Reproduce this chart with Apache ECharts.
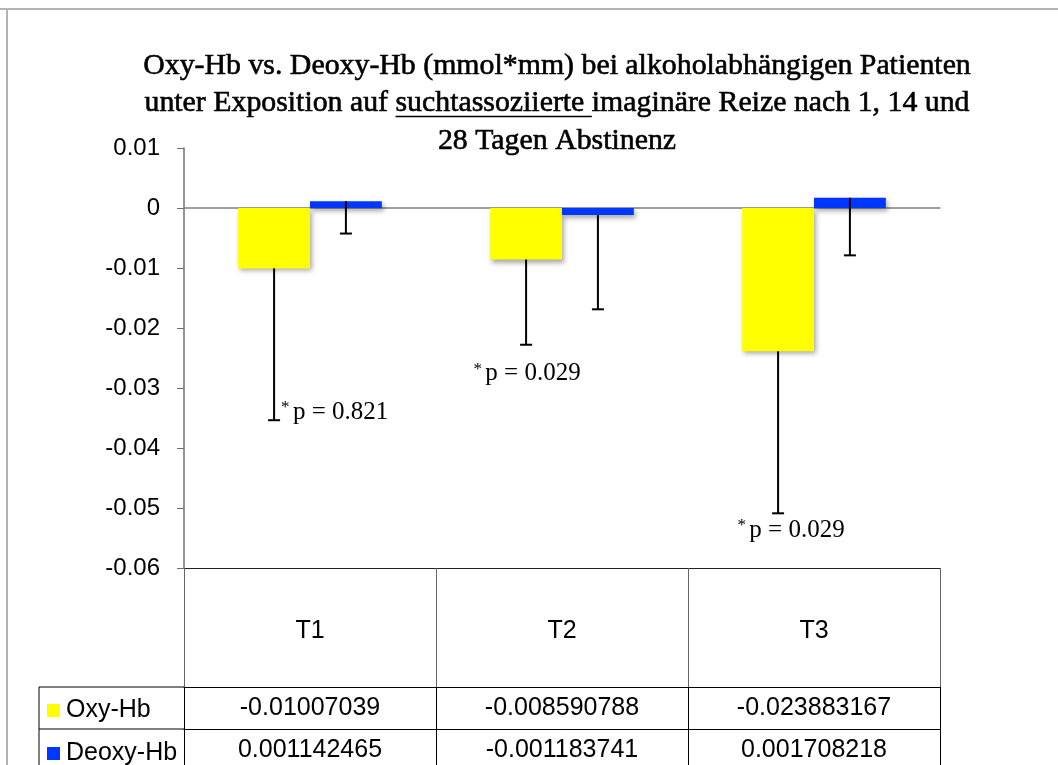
<!DOCTYPE html>
<html><head><meta charset="utf-8">
<script src="https://cdn.jsdelivr.net/npm/echarts@6/dist/echarts.min.js"></script>
<style>html,body{margin:0;padding:0;background:#fff}#c{width:1058px;height:765px}</style>
</head><body><div id="c"></div>
<script>
// ---- data ----
const categories = ['T1', 'T2', 'T3'];
const seriesNames = ['Oxy-Hb', 'Deoxy-Hb'];
const oxyValues = [-0.01007039, -0.008590788, -0.023883167];
const deoxyValues = [0.001142465, -0.001183741, 0.001708218];
const oxyErrMinus = [0.0253, 0.0142, 0.0270];
const deoxyErrMinus = [0.0054, 0.0157, 0.0096];
const pLabels = ['p = 0.821', 'p = 0.029', 'p = 0.029'];
const yMin = -0.06, yMax = 0.01, yInterval = 0.01;
const titleLine1 = 'Oxy-Hb vs. Deoxy-Hb (mmol*mm) bei alkoholabhängigen Patienten';
const titleLine2 = ['unter Exposition auf ', 'suchtassoziierte ', 'imaginäre Reize nach 1, 14 und'];
const titleLine3 = '28 Tagen Abstinenz';

// ---- layout / style ----
const SANS = '"Liberation Sans", Arial, sans-serif';
const SERIF = '"Liberation Serif", "Times New Roman", serif';
const CAT_GAP = 0.43;
const pLabelLayout = [{dx: 7, dy: -8, align: 'left'}, {dx: 1, dy: 29, align: 'center'}, {dx: 13, dy: 17, align: 'center'}];

const ctx = document.createElement('canvas').getContext('2d');
function tw(t, fs) { ctx.font = fs + 'px ' + SERIF; return ctx.measureText(t).width; }
let tfs = 27 * 828 / tw(titleLine1, 27);
tfs = Math.max(22, Math.min(32, tfs));
const cx = 557;
const y1 = 66, y2 = 103, y3 = 141;
const w2 = titleLine2.map(t => tw(t, tfs));
const x2 = cx - (w2[0] + w2[1] + w2[2]) / 2;
const titleStyle = {fontSize: tfs, fontFamily: SERIF, fill: '#000', verticalAlign: 'middle', stroke: '#000', lineWidth: 0.6};

function fmtTick(v) { return String(Math.round(v * 100) / 100); }

function errRender(side, withLabels) {
  return function (params, api) {
    const xi = api.value(0), v = api.value(1), e = api.value(2);
    const top = api.coord([xi, v]);
    const bot = api.coord([xi, v - e]);
    const band = api.size([1, 0])[0];
    const bw = band * (1 - CAT_GAP) / 2;
    const x = top[0] + side * bw / 2;
    const children = [
      {type: 'line', shape: {x1: x, y1: top[1], x2: x, y2: bot[1]}, style: {stroke: '#000', lineWidth: 2}},
      {type: 'line', shape: {x1: x - 6, y1: bot[1], x2: x + 6, y2: bot[1]}, style: {stroke: '#000', lineWidth: 2}}
    ];
    if (withLabels) {
      const L = pLabelLayout[params.dataIndex];
      children.push({
        type: 'text', x: x + L.dx, y: bot[1] + L.dy,
        style: {
          text: '{a|*} {b|' + pLabels[params.dataIndex] + '}',
          align: L.align, verticalAlign: 'middle',
          rich: {
            a: {fontSize: 17, fontFamily: SERIF, fill: '#000', verticalAlign: 'top', lineHeight: 26},
            b: {fontSize: 25, fontFamily: SERIF, fill: '#000', lineHeight: 26}
          }
        }
      });
    }
    return {type: 'group', children};
  };
}

const legendBase = {
  orient: 'vertical', left: 42, itemWidth: 13, itemHeight: 13, itemGap: 10, icon: 'rect', selectedMode: false,
  textStyle: {fontSize: 25, fontFamily: SANS, color: '#000', padding: [0, 0, 0, 1]}
};

const chart = echarts.init(document.getElementById('c'), null, {renderer: 'canvas'});
const option = {
  animation: false,
  backgroundColor: '#fff',
  grid: {left: 184, top: 148, width: 756, height: 420, containLabel: false},
  legend: [
    Object.assign({}, legendBase, {data: [seriesNames[0]], top: 693}),
    Object.assign({}, legendBase, {data: [seriesNames[1]], top: 736})
  ],
  xAxis: [
    {type: 'category', data: categories, position: 'bottom',
      axisLine: {show: true, onZero: true, lineStyle: {color: '#808080', width: 1.5}},
      axisTick: {show: false}, axisLabel: {show: false}, splitLine: {show: false}},
    {type: 'category', data: categories, position: 'bottom', offset: 0,
      axisLine: {show: true, onZero: false, lineStyle: {color: '#222', width: 1}},
      axisTick: {show: true, length: 119, lineStyle: {color: '#666', width: 1}},
      axisLabel: {show: true, margin: 51, fontSize: 25, fontFamily: SANS, color: '#000'}},
    {type: 'category', data: categories, position: 'bottom', offset: 119,
      axisLine: {show: true, onZero: false, lineStyle: {color: '#000', width: 1}},
      axisTick: {show: true, length: 42, lineStyle: {color: '#000', width: 1}},
      axisLabel: {show: true, margin: 9, fontSize: 25, fontFamily: SANS, color: '#000',
        formatter: (v, i) => String(oxyValues[i])}},
    {type: 'category', data: categories, position: 'bottom', offset: 161,
      axisLine: {show: true, onZero: false, lineStyle: {color: '#000', width: 1}},
      axisTick: {show: true, length: 42, lineStyle: {color: '#000', width: 1}},
      axisLabel: {show: true, margin: 9, fontSize: 25, fontFamily: SANS, color: '#000',
        formatter: (v, i) => String(deoxyValues[i])}}
  ],
  yAxis: {
    type: 'value', min: yMin, max: yMax, interval: yInterval,
    axisLine: {show: true, lineStyle: {color: '#707070', width: 1.5}},
    axisTick: {show: true, length: 7, lineStyle: {color: '#707070', width: 1}},
    axisLabel: {margin: 24, fontSize: 24, fontFamily: SANS, color: '#000', formatter: fmtTick},
    splitLine: {show: false}
  },
  series: [
    {name: seriesNames[0], type: 'bar', data: oxyValues, barGap: '0%', barCategoryGap: (CAT_GAP * 100) + '%',
      itemStyle: {color: '#ffff00', shadowColor: 'rgba(0,0,0,0.35)', shadowBlur: 5, shadowOffsetX: 2, shadowOffsetY: 3}},
    {name: seriesNames[1], type: 'bar', data: deoxyValues, barGap: '0%', barCategoryGap: (CAT_GAP * 100) + '%',
      itemStyle: {color: '#0037ff', shadowColor: 'rgba(0,0,0,0.35)', shadowBlur: 5, shadowOffsetX: 2, shadowOffsetY: 3}},
    {name: 'errOxy', type: 'custom', xAxisIndex: 0, yAxisIndex: 0, z: 5,
      data: oxyValues.map((v, i) => [i, v, oxyErrMinus[i]]),
      encode: {x: 0, y: 1}, renderItem: errRender(-1, true)},
    {name: 'errDeoxy', type: 'custom', xAxisIndex: 0, yAxisIndex: 0, z: 5,
      data: deoxyValues.map((v, i) => [i, v, deoxyErrMinus[i]]),
      encode: {x: 0, y: 1}, renderItem: errRender(1, false)}
  ],
  graphic: [
    {type: 'line', shape: {x1: 0, y1: 9, x2: 1058, y2: 9}, style: {stroke: '#b4b4b4', lineWidth: 2}},
    {type: 'line', shape: {x1: 7, y1: 9, x2: 7, y2: 765}, style: {stroke: '#b4b4b4', lineWidth: 2}},
    {type: 'line', shape: {x1: 39, y1: 687, x2: 184, y2: 687}, style: {stroke: '#000', lineWidth: 1}},
    {type: 'line', shape: {x1: 39, y1: 729, x2: 184, y2: 729}, style: {stroke: '#000', lineWidth: 1}},
    {type: 'line', shape: {x1: 39, y1: 687, x2: 39, y2: 765}, style: {stroke: '#000', lineWidth: 1}},
    {type: 'text', x: cx, y: y1, style: Object.assign({text: titleLine1, align: 'center'}, titleStyle)},
    {type: 'text', x: x2, y: y2, style: Object.assign({text: titleLine2[0], align: 'left'}, titleStyle)},
    {type: 'text', x: x2 + w2[0], y: y2, style: Object.assign({text: titleLine2[1], align: 'left'}, titleStyle)},
    {type: 'text', x: x2 + w2[0] + w2[1], y: y2, style: Object.assign({text: titleLine2[2], align: 'left'}, titleStyle)},
    {type: 'line', shape: {x1: x2 + w2[0], y1: y2 + tfs * 0.45, x2: x2 + w2[0] + w2[1], y2: y2 + tfs * 0.45}, style: {stroke: '#000', lineWidth: 1.5}},
    {type: 'text', x: cx, y: y3, style: Object.assign({text: titleLine3, align: 'center'}, titleStyle)}
  ]
};
chart.setOption(option);
</script>
</body></html>
